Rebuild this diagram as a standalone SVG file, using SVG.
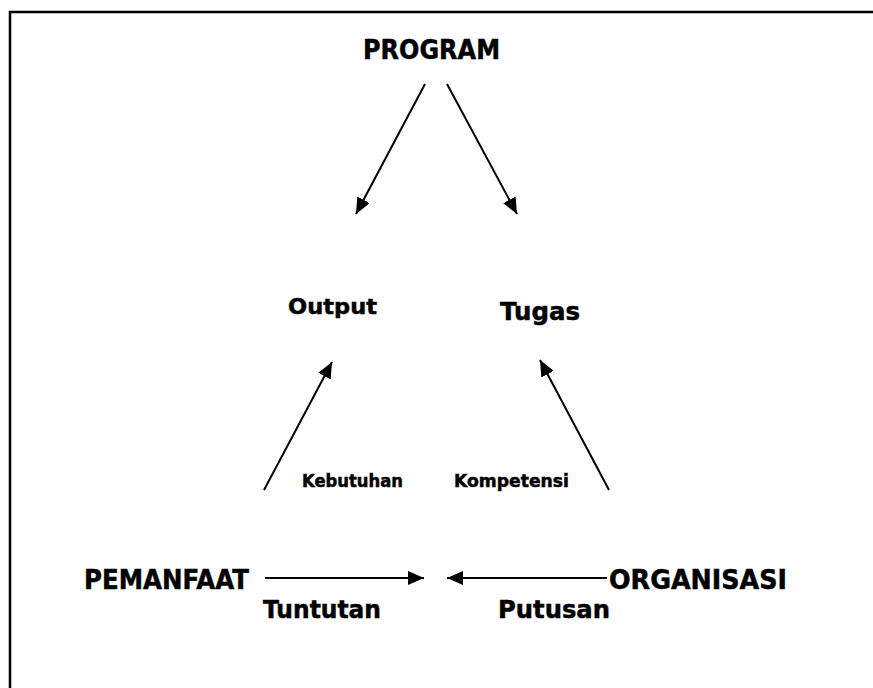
<svg xmlns="http://www.w3.org/2000/svg" width="873" height="688" viewBox="0 0 873 688">
<style>
  text { font-family: "DejaVu Sans", Verdana, sans-serif; font-weight: bold; fill: #000; stroke: #000; stroke-width: 0.5; }
  .c { stroke: #000; stroke-width: 2; fill: none; }
</style>
<defs>
  <marker id="ah" markerUnits="userSpaceOnUse" markerWidth="18" markerHeight="14" refX="16" refY="7" orient="auto">
    <path d="M0,0 L16,7 L0,14 Z" fill="#000"/>
  </marker>
</defs>
<rect x="10" y="12" width="900" height="700" fill="none" stroke="#000" stroke-width="2.5"/>
<g id="connectors">
  <line class="c" x1="425" y1="84" x2="356" y2="214" marker-end="url(#ah)"/>
  <line class="c" x1="447" y1="84" x2="517" y2="214" marker-end="url(#ah)"/>
  <line class="c" x1="264" y1="490" x2="332" y2="362" marker-end="url(#ah)"/>
  <line class="c" x1="609" y1="490" x2="540" y2="360" marker-end="url(#ah)"/>
  <line class="c" x1="265" y1="578" x2="424" y2="578" marker-end="url(#ah)"/>
  <line class="c" x1="607" y1="578" x2="447" y2="578" marker-end="url(#ah)"/>
</g>
<g id="program"><text x="363" y="59" font-size="26" textLength="137" lengthAdjust="spacingAndGlyphs">PROGRAM</text></g>
<g id="output"><text x="288" y="314" font-size="22" textLength="89" lengthAdjust="spacingAndGlyphs">Output</text></g>
<g id="tugas"><text x="500" y="320" font-size="25" textLength="80" lengthAdjust="spacingAndGlyphs">Tugas</text></g>
<g id="kebutuhan"><text x="302" y="487" font-size="17.5" textLength="101" lengthAdjust="spacingAndGlyphs">Kebutuhan</text></g>
<g id="kompetensi"><text x="454" y="487" font-size="17.5" textLength="115" lengthAdjust="spacingAndGlyphs">Kompetensi</text></g>
<g id="pemanfaat"><text x="84" y="589" font-size="26" textLength="165" lengthAdjust="spacingAndGlyphs">PEMANFAAT</text></g>
<g id="organisasi"><text x="609" y="589" font-size="26" textLength="178" lengthAdjust="spacingAndGlyphs">ORGANISASI</text></g>
<g id="tuntutan"><text x="263" y="618" font-size="25" textLength="118" lengthAdjust="spacingAndGlyphs">Tuntutan</text></g>
<g id="putusan"><text x="498" y="618" font-size="25" textLength="112" lengthAdjust="spacingAndGlyphs">Putusan</text></g>
</svg>
